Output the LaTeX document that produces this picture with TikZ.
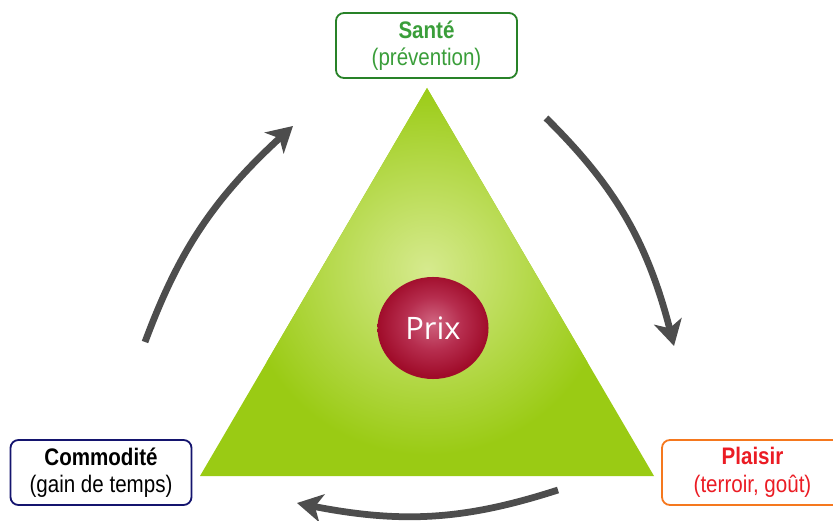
\documentclass[tikz,border=0pt]{standalone}
\usepackage{fontspec}
\setmainfont{Liberation Sans}
\newfontfamily\etykieta{Liberation Sans}[FakeStretch=0.86]
\newfontfamily\cenafont{Open Sans}
\usetikzlibrary{arrows.meta, bending, shapes.geometric}

\definecolor{zielonyTr}{RGB}{154,203,20}
\definecolor{zielonyJasny}{RGB}{214,234,142}
\definecolor{zdrowie}{RGB}{40,130,40}
\definecolor{zdrowieTxt}{RGB}{58,158,58}
\definecolor{granat}{RGB}{20,20,110}
\definecolor{pomarancz}{RGB}{245,120,30}
\definecolor{czerwien}{RGB}{235,28,36}
\definecolor{szary}{RGB}{77,77,77}
\definecolor{prixJasny}{RGB}{208,100,128}
\definecolor{prixSredni}{RGB}{182,45,78}
\definecolor{prixCiemny}{RGB}{160,12,42}

\pgfdeclareradialshading{kulaPrix}{\pgfpoint{0bp}{3bp}}{color(0bp)=(prixJasny); color(13bp)=(prixSredni); color(25bp)=(prixCiemny); color(50bp)=(prixCiemny)}

\begin{document}
\begin{tikzpicture}[x=0.025cm, y=0.025cm, >=Stealth, font=\etykieta,
    ramka/.style={draw, rounded corners=0.2cm, line width=1.3pt, fill=white,
        minimum width=4.525cm, minimum height=1.625cm, align=center,
        font=\etykieta\fontsize{17}{19.5}\selectfont},
    cykl/.style={-{Stealth[length=18pt, width=20pt, inset=5pt]}, line width=4.8pt, draw=szary}]

    % 0. Ramka obrazu
    \useasboundingbox (0,0) rectangle (833,520);
    \clip (0,0) rectangle (833,520);

    % 1. Wierzchołki trójkąta
    \coordinate (szczyt) at (427, 432);
    \coordinate (lewy) at (200, 44);
    \coordinate (prawy) at (654, 44);

    % 2. TRÓJKĄT z jaśniejszym środkiem
    \fill[zielonyTr] (szczyt) -- (lewy) -- (prawy) -- cycle;
    \begin{scope}
        \clip (szczyt) -- (lewy) -- (prawy) -- cycle;
        \shade[inner color=zielonyJasny, outer color=zielonyTr] (427, 250) circle (185);
    \end{scope}

    % 3. KULA "Prix"
    \node[ellipse, shading=kulaPrix, minimum width=2.775cm, minimum height=2.55cm,
        text=white, font=\cenafont\fontsize{22}{22}\selectfont] (prix) at (433, 192) {Prix};

    % 4. RAMKI z podpisami
    \node[ramka, draw=zdrowie, text=zdrowieTxt] (sante) at (426.5, 474.5) {\textbf{Santé}\\(prévention)};
    \node[ramka, draw=granat, text=black] (commodite) at (101, 47.5) {\textbf{Commodité}\\(gain de temps)};
    \node[ramka, draw=pomarancz, text=czerwien] (plaisir) at (752.5, 47.5) {\textbf{Plaisir}\\(terroir, goût)};

    % 5. STRZAŁKI cyklu
    \coordinate (c1a) at (145, 178);   % lewa, w górę
    \coordinate (c1b) at (293, 394);
    \coordinate (c2a) at (546, 402);   % prawa, w dół
    \coordinate (c2b) at (674, 174);
    \coordinate (c3a) at (558, 30);    % dolna, w lewo
    \coordinate (c3b) at (297, 17);

    \draw[cykl] (c1a) to[bend left=14] (c1b);
    \draw[cykl] (c2a) to[bend left=16] (c2b);
    \draw[cykl] (c3a) to[bend left=15] (c3b);

\end{tikzpicture}
\end{document}
